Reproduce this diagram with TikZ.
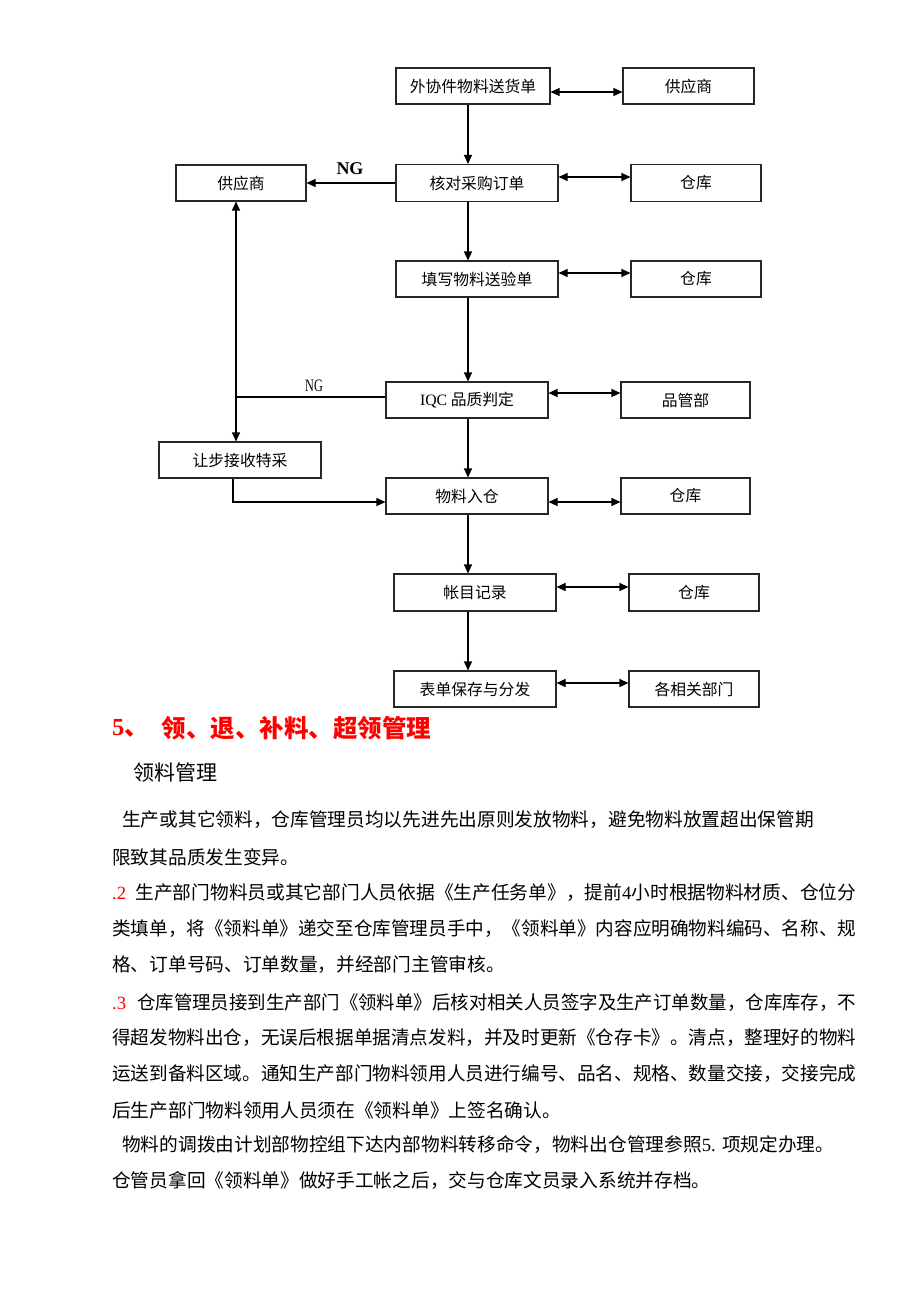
\documentclass[tikz,border=0pt]{standalone}
\usepackage{fontspec}
\usepackage{graphicx}
\setmainfont{Liberation Serif}
\newfontfamily\cjk{Noto Sans CJK SC}
\newfontfamily\latf{Liberation Serif}
\usetikzlibrary{arrows.meta}
\newcommand\lat[1]{{\latf #1}}
\newcommand\jline[2]{\resizebox{#1pt}{\height}{#2}}
\begin{document}
\begin{tikzpicture}[x=1pt,y=-1pt,
  box/.style={draw=black!85, line width=1.1pt, inner sep=0pt, font=\cjk\fontsize{15.8}{18}\selectfont},
  arr/.style={line width=1.1pt, -{Triangle[length=9pt,width=8pt]}},
  dbl/.style={line width=1.1pt, {Triangle[length=9pt,width=8pt]}-{Triangle[length=9pt,width=8pt]}},
  ln/.style={line width=1.1pt},
  txt/.style={anchor=west, inner sep=0pt, font=\cjk\fontsize{18.7}{22}\selectfont},
  red/.style={text=red}]
\useasboundingbox (0,0) rectangle (920,1302);
\fill[white] (0,0) rectangle (920,1302);

% boxes
\node[box, minimum width=154, minimum height=36] (A) at (473,86) {外协件物料送货单};
\node[box, minimum width=131, minimum height=36] (S1) at (688.5,86) {供应商};
\node[box, minimum width=162, minimum height=37] (B) at (477,183) {核对采购订单};
\node[box, minimum width=130, minimum height=37] (WB) at (696,183) {仓库};
\node[box, minimum width=130, minimum height=36] (S2) at (241,183) {供应商};
\node[box, minimum width=162, minimum height=36] (C) at (477,279) {填写物料送验单};
\node[box, minimum width=130, minimum height=36] (WC) at (696,279) {仓库};
\node[box, minimum width=162, minimum height=36] (D) at (467,400) {\lat{IQC} 品质判定};
\node[box, minimum width=129, minimum height=36] (Q) at (685.5,400) {品管部};
\node[box, minimum width=162, minimum height=36] (E) at (240,460) {让步接收特采};
\node[box, minimum width=162, minimum height=36] (F) at (467,496) {物料入仓};
\node[box, minimum width=129, minimum height=36] (WF) at (685.5,496) {仓库};
\node[box, minimum width=162, minimum height=37] (G) at (475,592.5) {帐目记录};
\node[box, minimum width=130, minimum height=37] (WG) at (694,592.5) {仓库};
\node[box, minimum width=162, minimum height=36] (H) at (475,689) {表单保存与分发};
\node[box, minimum width=130, minimum height=36] (R) at (694,689) {各相关部门};

% helper coordinates
\coordinate (mx) at (468,0);
\coordinate (yA) at (0,92);
\coordinate (yB) at (0,177);
\coordinate (yC) at (0,273);
\coordinate (yD) at (0,393);
\coordinate (yF) at (0,502);
\coordinate (yG) at (0,587);
\coordinate (yH) at (0,683);
\coordinate (J) at (236,397);
\coordinate (K) at (233,502);

% main flow
\draw[arr] (A.south -| mx) -- (B.north -| mx);
\draw[arr] (B.south -| mx) -- (C.north -| mx);
\draw[arr] (C.south -| mx) -- (D.north -| mx);
\draw[arr] (D.south -| mx) -- (F.north -| mx);
\draw[arr] (F.south -| mx) -- (G.north -| mx);
\draw[arr] (G.south -| mx) -- (H.north -| mx);

% side links
\draw[dbl] (A.east |- yA) -- (S1.west |- yA);
\draw[dbl] (B.east |- yB) -- (WB.west |- yB);
\draw[dbl] (C.east |- yC) -- (WC.west |- yC);
\draw[dbl] (D.east |- yD) -- (Q.west |- yD);
\draw[dbl] (F.east |- yF) -- (WF.west |- yF);
\draw[dbl] (G.east |- yG) -- (WG.west |- yG);
\draw[dbl] (H.east |- yH) -- (R.west |- yH);

% NG branches
\draw[arr] (B.west) -- (S2.east);
\node[inner sep=0pt, font=\latf\bfseries\fontsize{18}{20}\selectfont] (ng1) at (350,169) {NG};
\draw[ln] (D.west |- J) -- (J);
\draw[arr] (J) -- (S2.south -| J);
\draw[arr] (J) -- (E.north -| J);
\node[inner sep=0pt, xscale=0.7, font=\latf\fontsize{17.5}{19}\selectfont] (ng2) at (314,386) {NG};
\draw[arr] (E.south -| K) -- (K) -- (F.west |- K);

% heading
\node[txt, red, font=\latf\bfseries\fontsize{24.5}{28}\selectfont] (h1) at (112,728) {5{\cjk\bfseries 、}};
\node[txt, red, font=\cjk\bfseries\fontsize{24.5}{28}\selectfont] (h2) at (161.7,728) {领、退、补料、超领管理};
\node[txt, font=\cjk\fontsize{21}{24}\selectfont] (sub) at (133,773) {领料管理};

% body
\node[txt] (t1) at (122,820) {生产或其它领料，仓库管理员均以先进先出原则发放物料，避免物料放置超出保管期};
\node[txt] (t2) at (112,857) {限致其品质发生变异。};
\node[txt, red, font=\latf\fontsize{18.7}{22}\selectfont] (n2) at (112,893) {.2};
\node[txt] (t3) at (135.3,893) {\jline{720.7}{生产部门物料员或其它部门人员依据《生产任务单》，提前\lat{4}小时根据物料材质、仓位分}};
\node[txt] (t4) at (112,929) {\jline{744}{类填单，将《领料单》递交至仓库管理员手中，《领料单》内容应明确物料编码、名称、规}};
\node[txt] (t5) at (112,965) {格、订单号码、订单数量，并经部门主管审核。};
\node[txt, red, font=\latf\fontsize{18.7}{22}\selectfont] (n3) at (112,1003) {.3};
\node[txt] (t6) at (137,1003) {\jline{719}{仓库管理员接到生产部门《领料单》后核对相关人员签字及生产订单数量，仓库库存，不}};
\node[txt] (t7) at (112,1038) {\jline{744}{得超发物料出仓，无误后根据单据清点发料，并及时更新《仓存卡》。清点，整理好的物料}};
\node[txt] (t8) at (112,1074) {\jline{744}{运送到备料区域。通知生产部门物料领用人员进行编号、品名、规格、数量交接，交接完成}};
\node[txt] (t9) at (112,1110) {后生产部门物料领用人员须在《领料单》上签名确认。};
\node[txt] (t10) at (122,1145) {物料的调拨由计划部物控组下达内部物料转移命令，物料出仓管理参照\lat{5. }项规定办理。};
\node[txt] (t11) at (112,1180) {仓管员拿回《领料单》做好手工帐之后，交与仓库文员录入系统并存档。};
\end{tikzpicture}
\end{document}
